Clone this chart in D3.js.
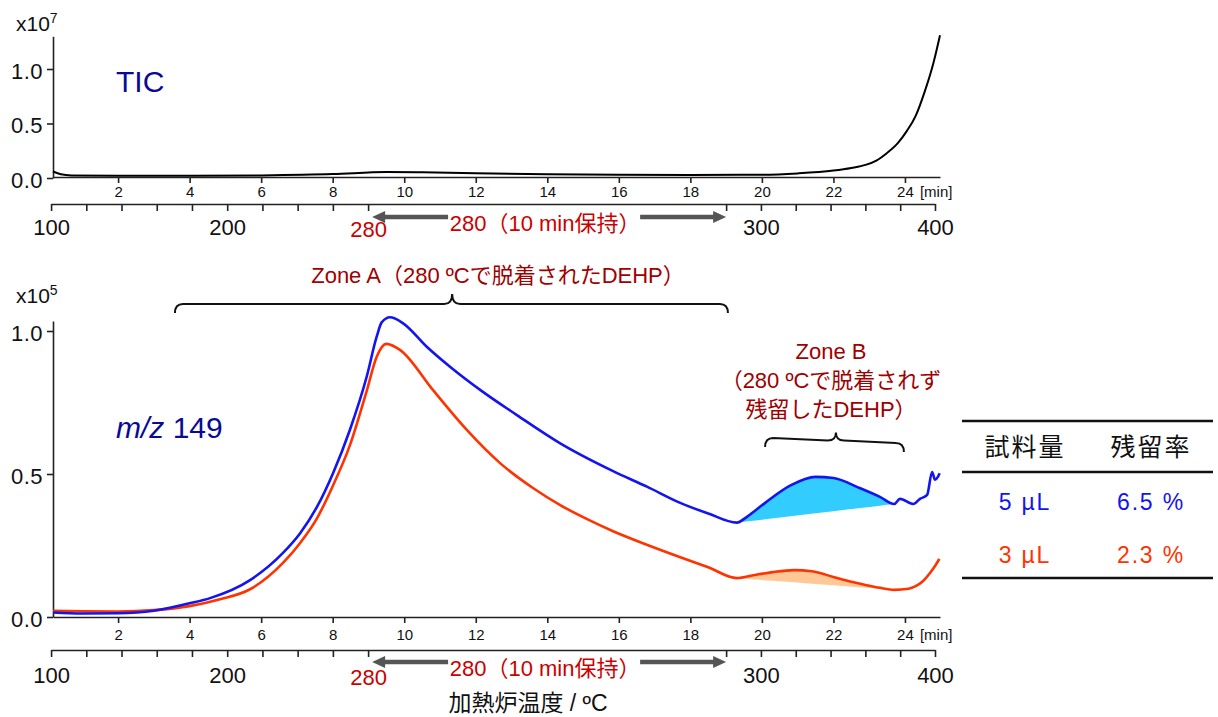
<!DOCTYPE html>
<html><head><meta charset="utf-8">
<script src="https://cdn.jsdelivr.net/npm/d3@7"></script>
<style>
body{margin:0;background:#fff;}
svg text{font-family:"Liberation Sans",Arial,"Noto Sans CJK JP",sans-serif;}
</style></head>
<body><svg id="c" width="1218" height="717"></svg>
<script>
// ---------- data ----------
const timeTicks = [2,4,6,8,10,12,14,16,18,20,22,24];
const yTicks = [0, 0.5, 1.0];
const progTime = [0.126, 8.99, 19.0, 24.84];   // temperature program (min)
const progTemp = [100, 280, 280, 400];          // ºC
const tempTicksRamp1 = [100,120,140,160,180,200,220,240,260,280];
const tempTicksRamp2 = [280,300,320,340,360,380,400];
const tempLabels = {100:"100",200:"200",300:"300",400:"400"};

// TIC (x10^7)
const ticTime  = [0.18,0.4,0.7,2,4,6,8,9.5,10.5,12,14,16,18,20,21,22,22.5,22.9,23.2,23.5,23.8,24.05,24.3,24.55,24.8,24.98];
const ticValue = [0.06,0.035,0.024,0.02,0.02,0.024,0.036,0.055,0.052,0.043,0.035,0.03,0.028,0.03,0.042,0.068,0.092,0.12,0.16,0.23,0.32,0.43,0.57,0.79,1.06,1.31];

// m/z 149, 5 µL (x10^5)
const blueTime  = [0.18,1,2,3,4,4.57,5.69,6.61,7.09,7.56,8.01,8.48,8.95,9.23,9.37,9.6,9.97,10.63,11.28,12.2,13.15,14.35,15.84,16.8,17.7,18.5,19.3,
                   19.6,20.1,20.8,21.5,22.0,22.75,23.3,23.7,23.86,24.23,24.42,24.62,24.76,24.84,24.92,24.97];
const blueValue = [0.016,0.012,0.013,0.022,0.048,0.066,0.129,0.224,0.293,0.385,0.503,0.654,0.84,0.98,1.03,1.048,1.027,0.945,0.875,0.787,0.706,0.608,0.51,0.455,0.40,0.362,0.33,
                   0.352,0.40,0.46,0.49,0.486,0.45,0.42,0.395,0.413,0.395,0.413,0.427,0.507,0.48,0.49,0.503];

// m/z 149, 3 µL (x10^5)
const redTime  = [0.18,1,2,3,4,4.85,5.69,6.61,7.09,7.56,8.01,8.48,8.95,9.23,9.5,9.88,10.8,11.75,12.68,13.6,14.35,15.1,15.84,16.8,17.7,18.5,19.3,
                  19.8,20.3,20.9,21.4,22.0,22.5,22.9,23.3,23.7,24.1,24.3,24.5,24.7,24.85,24.96];
const redValue = [0.022,0.02,0.019,0.024,0.038,0.062,0.097,0.189,0.259,0.345,0.46,0.60,0.79,0.91,0.955,0.934,0.794,0.654,0.538,0.451,0.392,0.343,0.30,0.252,0.21,0.174,0.136,
                  0.147,0.157,0.164,0.16,0.14,0.123,0.112,0.102,0.095,0.099,0.108,0.125,0.154,0.18,0.203];

const zoneBBlue = [19.3, 23.7];
const zoneBRed  = [19.3, 23.7];

const legendHeader = ["試料量","残留率"];
const legendRows = [["5 µL","6.5 %"],["3 µL","2.3 %"]];

// ---------- drawing ----------
const svg = d3.select("#c");
const blue = "#1414f0", red = "#ff3300", darkRed = "#a00000", tRed = "#cc0000", navy = "#0a0a96";

const x = d3.scaleLinear().domain([0.18, 24.98]).range([53, 940]);
const yTop = d3.scaleLinear().domain([0, 1.3]).range([178, 36.3]);
const yBot = d3.scaleLinear().domain([0, 1.035]).range([617, 321]);

const zip = (a,b)=>a.map((t,i)=>[t,b[i]]);
const tic = zip(ticTime, ticValue), bl = zip(blueTime, blueValue), rd = zip(redTime, redValue);

function tempTime(T, ramp){
  if(ramp===1) return progTime[0] + (T-progTemp[0])/(progTemp[1]-progTemp[0])*(progTime[1]-progTime[0]);
  return progTime[2] + (T-progTemp[2])/(progTemp[3]-progTemp[2])*(progTime[3]-progTime[2]);
}
const tempTickObjs = tempTicksRamp1.map(T=>({t:tempTime(T,1),T}))
  .concat(tempTicksRamp2.slice(1).map(T=>({t:tempTime(T,2),T})))
  .concat([{t:progTime[2],T:280,hold:true}]);
tempTickObjs.sort((a,b)=>a.t-b.t);
const tScale = d3.scaleLinear().domain([progTime[0], progTime[3]]).range([x(progTime[0]), x(progTime[3])]);

function styleAxis(g, w){
  g.selectAll("path.domain").attr("stroke","#222").attr("stroke-width",w);
  g.selectAll(".tick line").attr("stroke","#222").attr("stroke-width",w);
}

function panel(y, timeAxisY, tempAxisY, timePad, tempPad, labelShift){
  const ga = svg.append("g").attr("transform","translate(53,0)")
    .call(d3.axisLeft(y).tickValues(yTicks).tickFormat(d3.format(".1f")).tickSize(6).tickSizeOuter(0).tickPadding(4));
  ga.selectAll("text").attr("font-size",22).attr("fill","#111").attr("dy","0.41em").style("letter-spacing","0.5px");
  styleAxis(ga,1.6);
  const gt = svg.append("g").attr("transform",`translate(0,${timeAxisY})`)
    .call(d3.axisBottom(x).tickValues(timeTicks).tickFormat(d=>d).tickSize(6).tickSizeOuter(0).tickPadding(timePad));
  gt.selectAll("text").attr("font-size",15).attr("fill","#111");
  styleAxis(gt,1.6);
  const lastLab = timeAxisY + 6 + timePad + 15*0.71;
  svg.append("text").attr("x", x(24)+15).attr("y", lastLab).attr("font-size",15).attr("fill","#111").text("[min]");
  const gT = svg.append("g").attr("transform",`translate(0,${tempAxisY})`)
    .call(d3.axisBottom(tScale).tickValues(tempTickObjs.map(d=>d.t)).tickSize(7).tickSizeOuter(0).tickPadding(tempPad)
      .tickFormat((t)=>{const o=tempTickObjs.find(d=>Math.abs(d.t-t)<1e-9); if(o.hold) return ""; if(o.T===280) return "280"; return tempLabels[o.T]||"";}));
  gT.selectAll("text").attr("font-size",22).attr("fill",function(){return d3.select(this).text()==="280"?tRed:"#111";})
    .attr("dy",function(){return d3.select(this).text()==="280"?"0.81em":"0.71em";});
  styleAxis(gT,1.6);
  const ay = tempAxisY + labelShift;
  const xa = x(progTime[1]) + 4, xb = x(progTime[2]);
  const arrowCol = "#555";
  [[xa+76, xa], [xb-86, xb]].forEach(([from,to])=>{
    const dir = Math.sign(to-from);
    svg.append("line").attr("x1",from).attr("y1",ay).attr("x2",to-dir*11).attr("y2",ay)
      .attr("stroke",arrowCol).attr("stroke-width",4.5);
    svg.append("path").attr("d",`M${to},${ay} L${to-dir*13},${ay-6} L${to-dir*13},${ay+6} Z`).attr("fill",arrowCol);
  });
  svg.append("text").attr("x",(xa+76+xb-86)/2+1).attr("y",ay+13.5).attr("text-anchor","middle")
    .attr("font-size",22).attr("fill",tRed).text("280（10 min保持）");
}

panel(yTop, 177, 204, 3, 8.4, 13);
panel(yBot, 617, 650, 6, 10.4, 12);

function expo(base, e){
  const t = svg.append("text").attr("x",16).attr("y",base).attr("font-size",21).attr("fill","#111");
  t.append("tspan").text("x10");
  t.append("tspan").attr("font-size",14).attr("dy",-8).text(e);
}
expo(31, "7");
expo(303, "5");

const lineT = d3.line().x(d=>x(d[0])).y(d=>yTop(d[1])).curve(d3.curveMonotoneX);
const lineB = d3.line().x(d=>x(d[0])).y(d=>yBot(d[1])).curve(d3.curveMonotoneX);

function fill(data, range, color){
  const seg = data.filter(d=>d[0]>=range[0]-1e-9 && d[0]<=range[1]+1e-9);
  const a = seg[0], b = seg[seg.length-1];
  const base = t => a[1] + (t-a[0])/(b[0]-a[0])*(b[1]-a[1]);
  svg.append("path").datum(seg)
    .attr("d", d3.area().x(d=>x(d[0])).y1(d=>yBot(d[1])).y0(d=>yBot(base(d[0]))).curve(d3.curveMonotoneX))
    .attr("fill", color);
}
fill(bl, zoneBBlue, "#33ccff");
fill(rd, zoneBRed, "#ffc896");

svg.append("path").datum(tic).attr("d",lineT).attr("fill","none").attr("stroke","#000").attr("stroke-width",2);
svg.append("path").datum(rd).attr("d",lineB).attr("fill","none").attr("stroke",red).attr("stroke-width",2.6);
svg.append("path").datum(bl).attr("d",lineB).attr("fill","none").attr("stroke",blue).attr("stroke-width",2.6);

svg.append("text").attr("x",116).attr("y",92).attr("font-size",30).attr("fill",navy).text("TIC");
const mz = svg.append("text").attr("x",116).attr("y",438).attr("font-size",30).attr("fill",navy);
mz.append("tspan").attr("font-style","italic").text("m/z");
mz.append("tspan").text(" 149");

function brace(x1, x2, xm, y1, y2, up, down){
  const ym = y1 + (y2-y1)*(xm-x1)/(x2-x1);
  const r = 8;
  const d = `M${x1},${y1+down} Q${x1},${y1} ${x1+r},${y1} L${xm-r},${ym} Q${xm},${ym} ${xm},${ym-up} Q${xm},${ym} ${xm+r},${ym} L${x2-r},${y2} Q${x2},${y2} ${x2},${y2+down}`;
  svg.append("path").attr("d",d).attr("fill","none").attr("stroke","#111").attr("stroke-width",2);
}
brace(x(3.59), x(19.05), x(11.34), 304, 304, 10, 9);
brace(x(20.09), x(23.97), x(22.07), 438, 443, 8, 9);

svg.append("text").attr("x",498).attr("y",283).attr("text-anchor","middle").attr("font-size",22).attr("fill",darkRed)
  .text("Zone A（280 ºCで脱着されたDEHP）");
[["Zone B",359],["（280 ºCで脱着されず",388],["残留したDEHP）",417]].forEach(([s,yy])=>{
  svg.append("text").attr("x",831).attr("y",yy).attr("text-anchor","middle").attr("font-size",22).attr("fill",darkRed).text(s);
});

svg.append("text").attr("x",528).attr("y",711).attr("text-anchor","middle").attr("font-size",23).attr("fill","#111")
  .text("加熱炉温度 / ºC");

[421,472,578].forEach(yy=>svg.append("line").attr("x1",962).attr("x2",1213).attr("y1",yy).attr("y2",yy)
  .attr("stroke","#111").attr("stroke-width",2.5));
const colX = [1025, 1151];
legendHeader.forEach((s,i)=>svg.append("text").attr("x",colX[i]).attr("y",456).attr("text-anchor","middle")
  .attr("font-size",25).style("letter-spacing","2px").attr("fill","#111").text(s));
const rowY = [510, 563], rowC = [blue, red];
legendRows.forEach((r,j)=>r.forEach((s,i)=>svg.append("text").attr("x",colX[i]).attr("y",rowY[j]).attr("text-anchor","middle")
  .attr("font-size",23).style("letter-spacing","1.8px").attr("fill",rowC[j]).text(s)));
</script></body></html>
